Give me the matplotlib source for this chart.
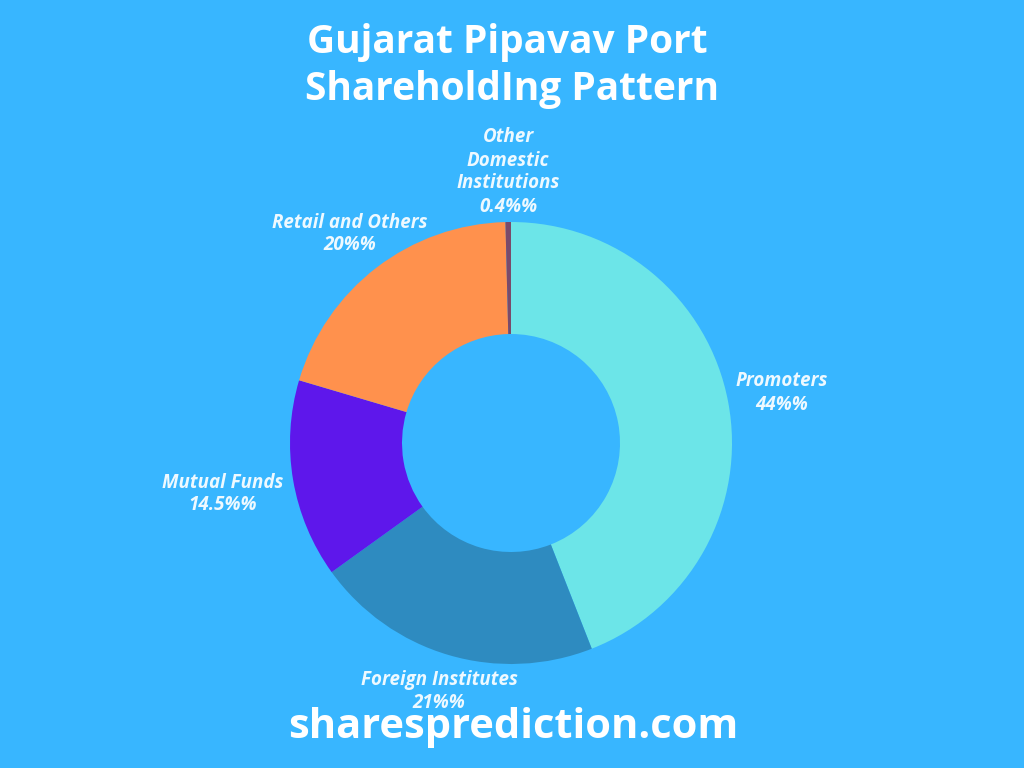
import matplotlib.pyplot as plt

# shareholding data (clockwise from the top)
labels = ['Promoters', 'Foreign Institutes', 'Mutual Funds', 'Retail and Others',
          'Other\nDomestic\nInstitutions']
values = [44, 21, 14.5, 20, 0.4]
value_text = ['44%', '21%', '14.5%', '20%', '0.4%']
colors = ['#6ce5e8', '#2e8bc0', '#5e17eb', '#ff914d', '#7a4a6a']

bg = '#38b6ff'
txt = '#eef9ff'

fig = plt.figure(figsize=(10.24, 7.68), dpi=100, facecolor=bg)
ax = fig.add_axes([0, 0, 1, 1])
ax.set_facecolor(bg)
ax.set_xlim(0, 1024)
ax.set_ylim(0, 768)
ax.set_aspect('equal')
ax.axis('off')

cx, cy, r = 511, 768 - 443, 221
ax.pie(values, colors=colors, startangle=90, counterclock=False,
       center=(cx, cy), radius=r, wedgeprops=dict(width=112, linewidth=0))
ax.set_xlim(0, 1024)
ax.set_ylim(0, 768)

# label positions (pixels from top-left)
label_pos = [(782, 393), (439, 691), (223, 494), (350, 234), (508, 172)]
for lab, v, (x, y) in zip(labels, value_text, label_pos):
    ax.text(x, 768 - y, lab + '\n' + v + '%', ha='center', va='center',
            fontsize=13.5, fontstyle='italic', fontweight='bold', color=txt,
            family='Open Sans', linespacing=1.2)

ax.text(512, 768 - 66, 'Gujarat Pipavav Port \nShareholdIng Pattern', ha='center',
        va='center', fontsize=28, fontweight='bold', color='white',
        family='Open Sans', linespacing=1.25)

ax.text(513, 768 - 728, 'sharesprediction.com', ha='center', va='center',
        fontsize=30, fontweight='bold', color='white', family='Open Sans')

fig.savefig('out.png', dpi=100, facecolor=bg)
